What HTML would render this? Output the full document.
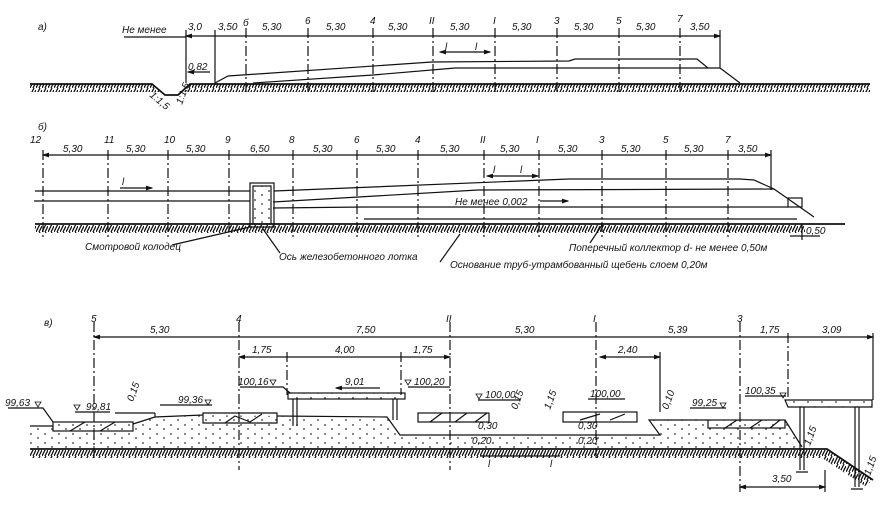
<!DOCTYPE html>
<html><head><meta charset="utf-8"><style>
html,body{margin:0;padding:0;background:#fff;}
svg{display:block}
text{font-family:"Liberation Sans",sans-serif;font-style:italic;font-size:10px;fill:#111}
</style></head><body>
<svg width="889" height="507" viewBox="0 0 889 507" xmlns="http://www.w3.org/2000/svg">
<defs>
<pattern id="h" width="6" height="8" patternUnits="userSpaceOnUse">
<path d="M0 8 L4 0 M3 8 L6 2" stroke="#111" stroke-width="1.3"/>
</pattern>
<pattern id="d" width="14" height="9" patternUnits="userSpaceOnUse">
<circle cx="3" cy="2" r="0.9" fill="#333"/><circle cx="10" cy="6" r="0.9" fill="#333"/>
</pattern>
<marker id="a" markerWidth="6" markerHeight="6" refX="5" refY="3" orient="auto"><path d="M0 1 L6 3 L0 5z" fill="#111"/></marker>
<marker id="b" markerWidth="6" markerHeight="6" refX="1" refY="3" orient="auto"><path d="M6 1 L0 3 L6 5z" fill="#111"/></marker>
</defs>
<g stroke="#111" fill="none" stroke-width="1.2">

<!-- ===== Section a ===== -->
<text x="38" y="30" stroke="none">а)</text>
<text x="122" y="33" stroke="none">Не менее</text>
<line x1="124" y1="37" x2="186" y2="37"/>
<line x1="186" y1="36" x2="720" y2="36" marker-start="url(#b)" marker-end="url(#a)"/>
<g stroke-dasharray="10,3,2,3">
<line x1="246" y1="28" x2="246" y2="95"/><line x1="308" y1="28" x2="308" y2="95"/>
<line x1="373" y1="28" x2="373" y2="95"/><line x1="433" y1="28" x2="433" y2="95"/>
<line x1="495" y1="28" x2="495" y2="95"/><line x1="557" y1="28" x2="557" y2="95"/>
<line x1="619" y1="28" x2="619" y2="95"/><line x1="680" y1="28" x2="680" y2="95"/>
</g>
<line x1="186" y1="30" x2="186" y2="83"/><line x1="215" y1="30" x2="215" y2="83"/><line x1="720" y1="30" x2="720" y2="68"/>
<line x1="188" y1="72" x2="210" y2="72" marker-start="url(#b)"/>
<line x1="440" y1="52" x2="490" y2="52" marker-start="url(#b)" marker-end="url(#a)"/>
<polyline points="215,83 228,76 432,62 569,61 575,59 697,59 708,68"/>
<polyline points="253,83 373,75 455,68 720,68 740,83"/>
<rect x="30" y="84" width="840" height="8" fill="url(#h)" stroke="none"/>
<path d="M152 84 L165 95 L178 95 L190 84 Z" fill="#fff" stroke="none"/>
<path d="M30 84 L152 84 L165 95 L178 95 L190 84 L870 84" stroke-width="1.8"/>
<g stroke="none">
<text x="188" y="30">3,0</text><text x="218" y="30">3,50</text>
<text x="262" y="30">5,30</text><text x="326" y="30">5,30</text><text x="388" y="30">5,30</text>
<text x="450" y="30">5,30</text><text x="512" y="30">5,30</text><text x="574" y="30">5,30</text>
<text x="636" y="30">5,30</text><text x="690" y="30">3,50</text>
<text x="243" y="26">б</text><text x="305" y="24">6</text><text x="370" y="24">4</text>
<text x="429" y="24">II</text><text x="493" y="24">I</text><text x="554" y="24">3</text>
<text x="616" y="24">5</text><text x="677" y="22">7</text>
<text x="188" y="70">0,82</text><text x="445" y="50">l</text><text x="475" y="50">l</text>
<text transform="translate(149,96) rotate(40)">1:1,5</text>
<text transform="translate(182,105) rotate(-70)">1:1,5</text>
</g>

<!-- ===== Section б ===== -->
<text x="38" y="130" stroke="none">б)</text>
<line x1="43" y1="155" x2="771" y2="155" marker-start="url(#b)" marker-end="url(#a)"/>
<g stroke-dasharray="10,3,2,3">
<line x1="43" y1="150" x2="43" y2="240"/><line x1="108" y1="150" x2="108" y2="240"/>
<line x1="168" y1="150" x2="168" y2="240"/><line x1="229" y1="150" x2="229" y2="240"/>
<line x1="293" y1="150" x2="293" y2="240"/><line x1="357" y1="150" x2="357" y2="240"/>
<line x1="418" y1="150" x2="418" y2="240"/><line x1="484" y1="150" x2="484" y2="240"/>
<line x1="539" y1="150" x2="539" y2="240"/><line x1="602" y1="150" x2="602" y2="240"/>
<line x1="666" y1="150" x2="666" y2="240"/><line x1="728" y1="150" x2="728" y2="240"/>
</g>
<line x1="771" y1="150" x2="771" y2="190"/>
<polyline points="35,191 250,191"/><polyline points="34,201 250,201"/>
<polyline points="274,191 569,179 740,179 754,180 774,189"/>
<polyline points="273,202 478,190 774,189 814,217"/>
<polyline points="273,208 364,207 788,207"/>
<polyline points="364,219 797,219"/>
<rect x="250" y="183" width="24" height="44"/><rect x="253" y="186" width="18" height="38" fill="url(#d)"/>
<rect x="788" y="198" width="14" height="9"/>
<line x1="120" y1="188" x2="152" y2="188" marker-end="url(#a)"/>
<line x1="540" y1="201" x2="568" y2="201" marker-end="url(#a)"/>
<line x1="487" y1="176" x2="538" y2="176" marker-start="url(#b)" marker-end="url(#a)"/>
<rect x="35" y="225" width="770" height="8" fill="url(#h)" stroke="none"/>
<line x1="35" y1="224" x2="845" y2="224" stroke-width="1.8"/>
<line x1="802" y1="224" x2="802" y2="240"/><line x1="790" y1="236" x2="820" y2="236"/>
<line x1="172" y1="245" x2="250" y2="227"/>
<line x1="263" y1="229" x2="280" y2="253"/>
<line x1="440" y1="262" x2="460" y2="234"/>
<line x1="590" y1="243" x2="602" y2="225"/>
<g stroke="none">
<text x="30" y="143">12</text><text x="104" y="143">11</text><text x="164" y="143">10</text>
<text x="225" y="143">9</text><text x="289" y="143">8</text><text x="354" y="143">6</text>
<text x="415" y="143">4</text><text x="480" y="143">II</text><text x="536" y="143">I</text>
<text x="599" y="143">3</text><text x="663" y="143">5</text><text x="725" y="143">7</text>
<text x="63" y="152">5,30</text><text x="126" y="152">5,30</text><text x="186" y="152">5,30</text>
<text x="250" y="152">6,50</text><text x="313" y="152">5,30</text><text x="376" y="152">5,30</text>
<text x="440" y="152">5,30</text><text x="500" y="152">5,30</text><text x="558" y="152">5,30</text>
<text x="621" y="152">5,30</text><text x="684" y="152">5,30</text><text x="738" y="152">3,50</text>
<text x="122" y="185">l</text><text x="493" y="173">l</text><text x="520" y="173">l</text>
<text x="455" y="205">Не менее 0,002</text>
<text x="806" y="234">0,50</text>
<text x="85" y="250">Смотровой колодец</text>
<text x="279" y="260">Ось железобетонного лотка</text>
<text x="569" y="251">Поперечный коллектор d- не менее 0,50м</text>
<text x="450" y="268">Основание труб-утрамбованный щебень слоем 0,20м</text>
</g>

<!-- ===== Section в ===== -->
<text x="44" y="326" stroke="none">в)</text>
<line x1="94" y1="337" x2="873" y2="337" marker-start="url(#b)" marker-end="url(#a)"/>
<line x1="239" y1="357" x2="450" y2="357" marker-start="url(#b)" marker-end="url(#a)"/>
<line x1="600" y1="357" x2="660" y2="357" marker-start="url(#b)" marker-end="url(#a)"/>
<g stroke-dasharray="10,3,2,3">
<line x1="94" y1="322" x2="94" y2="460"/><line x1="239" y1="322" x2="239" y2="470"/>
<line x1="450" y1="322" x2="450" y2="470"/><line x1="596" y1="322" x2="596" y2="460"/>
<line x1="740" y1="322" x2="740" y2="492"/><line x1="788" y1="333" x2="788" y2="400"/>
<line x1="287" y1="352" x2="287" y2="395"/><line x1="401" y1="352" x2="401" y2="395"/>
</g>
<line x1="873" y1="333" x2="873" y2="400"/><line x1="660" y1="352" x2="660" y2="412"/>
<!-- fill -->
<path d="M30 426 L53 426 L53 422 L133 422 L155 417 L203 415 L277 416 L387 417 L400 435 L660 435 L649 420 L708 420 L785 420 L802 447 L802 449 L30 449 Z" fill="url(#d)" stroke="none"/>
<polyline points="30,426 53,426"/>
<polyline points="133,424 155,417 203,415"/>
<line x1="155" y1="413" x2="155" y2="417"/><line x1="115" y1="413" x2="155" y2="413"/>
<polyline points="277,416 387,417 400,435 660,435 649,420 708,420"/>
<polyline points="785,420 802,447"/>
<rect x="53" y="422" width="80" height="9"/>
<path d="M70 431 L85 422 M100 431 L115 422" />
<path d="M203 413 L277 413 L277 423 L203 423 Z"/>
<path d="M225 423 L235 416 L250 422 L262 414"/>
<rect x="418" y="413" width="71" height="9"/>
<path d="M430 422 L442 413 M455 422 L467 413 M475 422 L487 413"/>
<rect x="563" y="412" width="74" height="10"/>
<path d="M580 420 L600 414 M610 420 L625 414"/>
<rect x="708" y="420" width="77" height="8"/>
<path d="M725 428 L737 420 M750 428 L762 420 M770 428 L780 420"/>
<!-- bridge -->
<rect x="288" y="393" width="117" height="6" fill="url(#d)"/>
<line x1="293" y1="399" x2="293" y2="426"/><line x1="297" y1="399" x2="297" y2="426"/>
<line x1="393" y1="399" x2="393" y2="420"/><line x1="397" y1="399" x2="397" y2="420"/>
<polyline points="240,387 283,387 290,393"/>
<line x1="380" y1="388" x2="336" y2="388" marker-end="url(#a)"/>
<!-- ground -->
<rect x="30" y="450" width="797" height="8" fill="url(#h)" stroke="none"/>
<path d="M827 450 L873 480 L865 486 L822 458 Z" fill="url(#h)" stroke="none"/>
<path d="M30 449 L827 449 L873 480" stroke-width="1.8"/>
<!-- right bridge -->
<path d="M785 400 L872 400 L872 407 L788 407 Z" fill="url(#d)"/>
<line x1="800" y1="407" x2="800" y2="470"/><line x1="804" y1="407" x2="804" y2="470"/>
<line x1="855" y1="407" x2="855" y2="487"/><line x1="859" y1="407" x2="859" y2="487"/>
<path d="M796 472 L808 472 M851 489 L863 489"/>
<line x1="740" y1="487" x2="825" y2="487" marker-start="url(#b)" marker-end="url(#a)"/>
<line x1="825" y1="470" x2="825" y2="492"/>
<line x1="480" y1="456" x2="560" y2="456"/>
<!-- elevation triangles -->
<g stroke-width="0.8">
<path d="M35 402 L41 402 L38 407 Z"/><path d="M74 405 L80 405 L77 410 Z"/>
<path d="M205 400 L211 400 L208 405 Z"/><path d="M270 380 L276 380 L273 385 Z"/>
<path d="M405 380 L411 380 L408 385 Z"/><path d="M476 394 L482 394 L479 399 Z"/>
<path d="M720 403 L726 403 L723 408 Z"/><path d="M780 393 L786 393 L783 398 Z"/>
</g>
<polyline points="8,408 43,408 53,422"/><line x1="75" y1="412" x2="110" y2="412"/>
<line x1="160" y1="405" x2="212" y2="405"/><line x1="408" y1="387" x2="450" y2="387"/>
<line x1="478" y1="400" x2="520" y2="400"/><line x1="588" y1="399" x2="625" y2="399"/>
<line x1="690" y1="408" x2="726" y2="408"/><line x1="745" y1="396" x2="786" y2="396"/>
<g stroke="none">
<text x="91" y="322">5</text><text x="236" y="322">4</text><text x="446" y="322">II</text>
<text x="593" y="322">I</text><text x="737" y="322">3</text>
<text x="150" y="333">5,30</text><text x="356" y="333">7,50</text><text x="515" y="333">5,30</text>
<text x="668" y="333">5,39</text><text x="760" y="333">1,75</text><text x="822" y="333">3,09</text>
<text x="252" y="353">1,75</text><text x="335" y="353">4,00</text><text x="413" y="353">1,75</text>
<text x="618" y="353">2,40</text>
<text x="5" y="406">99,63</text><text x="86" y="410">99,81</text><text x="178" y="403">99,36</text>
<text x="238" y="385">100,16</text><text x="345" y="385">9,01</text><text x="414" y="385">100,20</text>
<text x="485" y="398">100,00</text><text x="590" y="397">100,00</text><text x="692" y="406">99,25</text>
<text x="745" y="394">100,35</text>
<text x="478" y="429">0,30</text><text x="472" y="444">0,20</text>
<text x="578" y="429">0,30</text><text x="578" y="444">0,20</text>
<text x="488" y="467">l</text><text x="550" y="467">l</text>
<text x="772" y="482">3,50</text>
<text transform="translate(133,402) rotate(-70)">0,15</text>
<text transform="translate(517,410) rotate(-70)">0,15</text>
<text transform="translate(550,410) rotate(-70)">1,15</text>
<text transform="translate(668,410) rotate(-70)">0,10</text>
<text transform="translate(810,446) rotate(-70)">1,15</text>
<text transform="translate(870,476) rotate(-70)">1,15</text>
</g>
</g>
</svg>
</body></html>
